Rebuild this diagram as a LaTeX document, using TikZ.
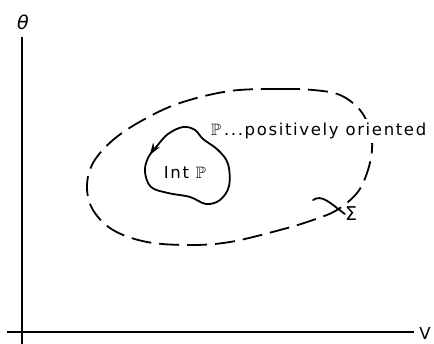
\documentclass[tikz,border=0pt]{standalone}
\usepackage{amssymb}
\usepackage{fontspec}
\newfontfamily\lettering[LetterSpace=10]{DejaVu Sans}
\newfontfamily\plainsans{DejaVu Sans}
\usetikzlibrary{arrows.meta,decorations.markings}
\tikzset{
  axis/.style={line width=1.9pt},
  curve/.style={line width=1.8pt, line join=round, line cap=round},
  boundary/.style={curve, dash pattern=on 20pt off 8pt, line cap=butt},
  label/.style={font=\lettering\fontsize{16.5}{18}\selectfont, inner sep=1pt},
  orient/.style={decoration={markings,
      mark=at position 0.11 with {\arrow{Stealth[length=12pt,width=8pt]}}},
    postaction={decorate}}
}
\begin{document}
\begin{tikzpicture}[x=1pt,y=-1pt]
  \useasboundingbox (0,0) rectangle (434,344);

  % axes
  \node (theta) at (23,22) {\plainsans\fontsize{19}{20}\selectfont\itshape θ};
  \node[label] (V) at (425,333) {V};
  \coordinate (ytop) at (22,37);
  \coordinate (ybot) at (22,344);
  \coordinate (xleft) at (7,332);
  \coordinate (xright) at (414,332);
  \draw[axis] (ytop) -- (ybot);
  \draw[axis] (xleft) -- (xright);

  % the dashed region boundary Sigma
  \draw[boundary] plot[smooth cycle, tension=0.6] coordinates {
    (230,91) (280,89) (313,90) (340,95) (360,110) (370,130) (372,150)
    (367,173) (357,193) (337,210) (313,220) (280,230) (230,242) (190,245)
    (147,242) (113,230) (93,210) (87,187) (93,163) (113,140) (143,120)
    (180,103)};

  % the positively oriented loop P
  \draw[curve, orient] plot[smooth cycle, tension=0.6] coordinates {
    (183,127) (168,134) (157,146) (148,158) (145,172) (151,187)
    (168,193) (190,197) (206,204) (220,200) (229,186) (228,164)
    (218,150) (203,139) (195,130)};

  \node[label] (int) at (185,172) {Int $\mathbb{P}$};
  \node[label, fill=white, inner ysep=4pt, anchor=west] (pos) at (210,131)
    {$\mathbb{P}$\,...positively oriented};

  % label for Sigma
  \node[font=\plainsans\fontsize{19}{20}\selectfont, inner sep=0pt] (sigma) at (351,214) {Σ};
  \coordinate (tickstart) at (313,200);
  \draw[curve] (tickstart) .. controls (322,194) and (330,203) .. (sigma.west);
\end{tikzpicture}
\end{document}
